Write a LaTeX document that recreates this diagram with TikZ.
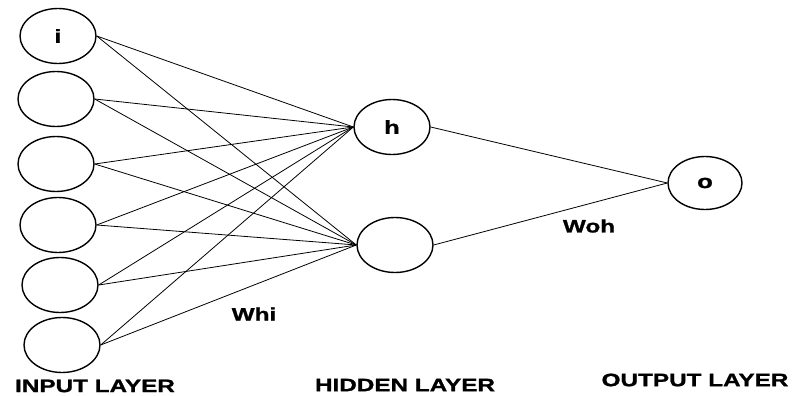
\documentclass[tikz,border=0pt]{standalone}
\usepackage{fontspec}
\setsansfont{Liberation Sans}[FakeStretch=1.35,BoldFeatures={FakeBold=1.2}]
\usepackage{tikz}
\usetikzlibrary{positioning,shapes}

\begin{document}
\begin{tikzpicture}[x=1pt,y=-1pt]
    	\tikzstyle{neuron_style} = [ellipse,draw=black,line width=1.4pt,minimum width=76pt,minimum height=55pt,inner sep=0pt,font=\sffamily\bfseries\fontsize{19}{21}\selectfont]
	    \tikzstyle{edge_style} = [draw=black,line width=0.8pt]
	    \tikzstyle{text_style} = [inner sep=0pt,font=\sffamily\bfseries\fontsize{18}{20}\selectfont]
	    \useasboundingbox (0,0) rectangle (796,396);
	    % input layer
		    \node[neuron_style] (in1) at (58,36) {i};
		    \node[neuron_style] (in2) at (56,99) {};
		    \node[neuron_style] (in3) at (56,164) {};
		    \node[neuron_style] (in4) at (58,225) {};
		    \node[neuron_style] (in5) at (60,285) {};
		    \node[neuron_style] (in6) at (62,345) {};
	    % hidden layer
		    \node[neuron_style] (hd1) at (392,127) {h};
		    \node[neuron_style] (hd2) at (395,245) {};
	    % output layer
		    \node[neuron_style,minimum width=74pt,minimum height=53pt] (out) at (705,183) {o};
	    % weights
		    \draw[edge_style]  (in1.east) -- (hd1.west);
		    \draw[edge_style]  (in1.east) -- (hd2.west);
		    \draw[edge_style]  (in2.east) -- (hd1.west);
		    \draw[edge_style]  (in2.east) -- (hd2.west);
		    \draw[edge_style]  (in3.east) -- (hd1.west);
		    \draw[edge_style]  (in3.east) -- (hd2.west);
		    \draw[edge_style]  (in4.east) -- (hd1.west);
		    \draw[edge_style]  (in4.east) -- (hd2.west);
		    \draw[edge_style]  (in5.east) -- (hd1.west);
		    \draw[edge_style]  (in5.east) -- (hd2.west);
		    \draw[edge_style]  (in6.east) -- (hd1.west);
		    \draw[edge_style]  (in6.east) -- (hd2.west);
		    \draw[edge_style]  (hd1.east) -- (out.west);
		    \draw[edge_style]  (hd2.east) -- (out.west);
	    % labels
		    \node[text_style] (whi) at (254,314) {Whi};
		    \node[text_style] (woh) at (589,226) {Woh};
		    \node[text_style] (inlabel) at (95,386) {INPUT LAYER};
		    \node[text_style] (hdlabel) at (405,385) {HIDDEN LAYER};
		    \node[text_style] (outlabel) at (695,380) {OUTPUT LAYER};
	    \end{tikzpicture}
\end{document}
